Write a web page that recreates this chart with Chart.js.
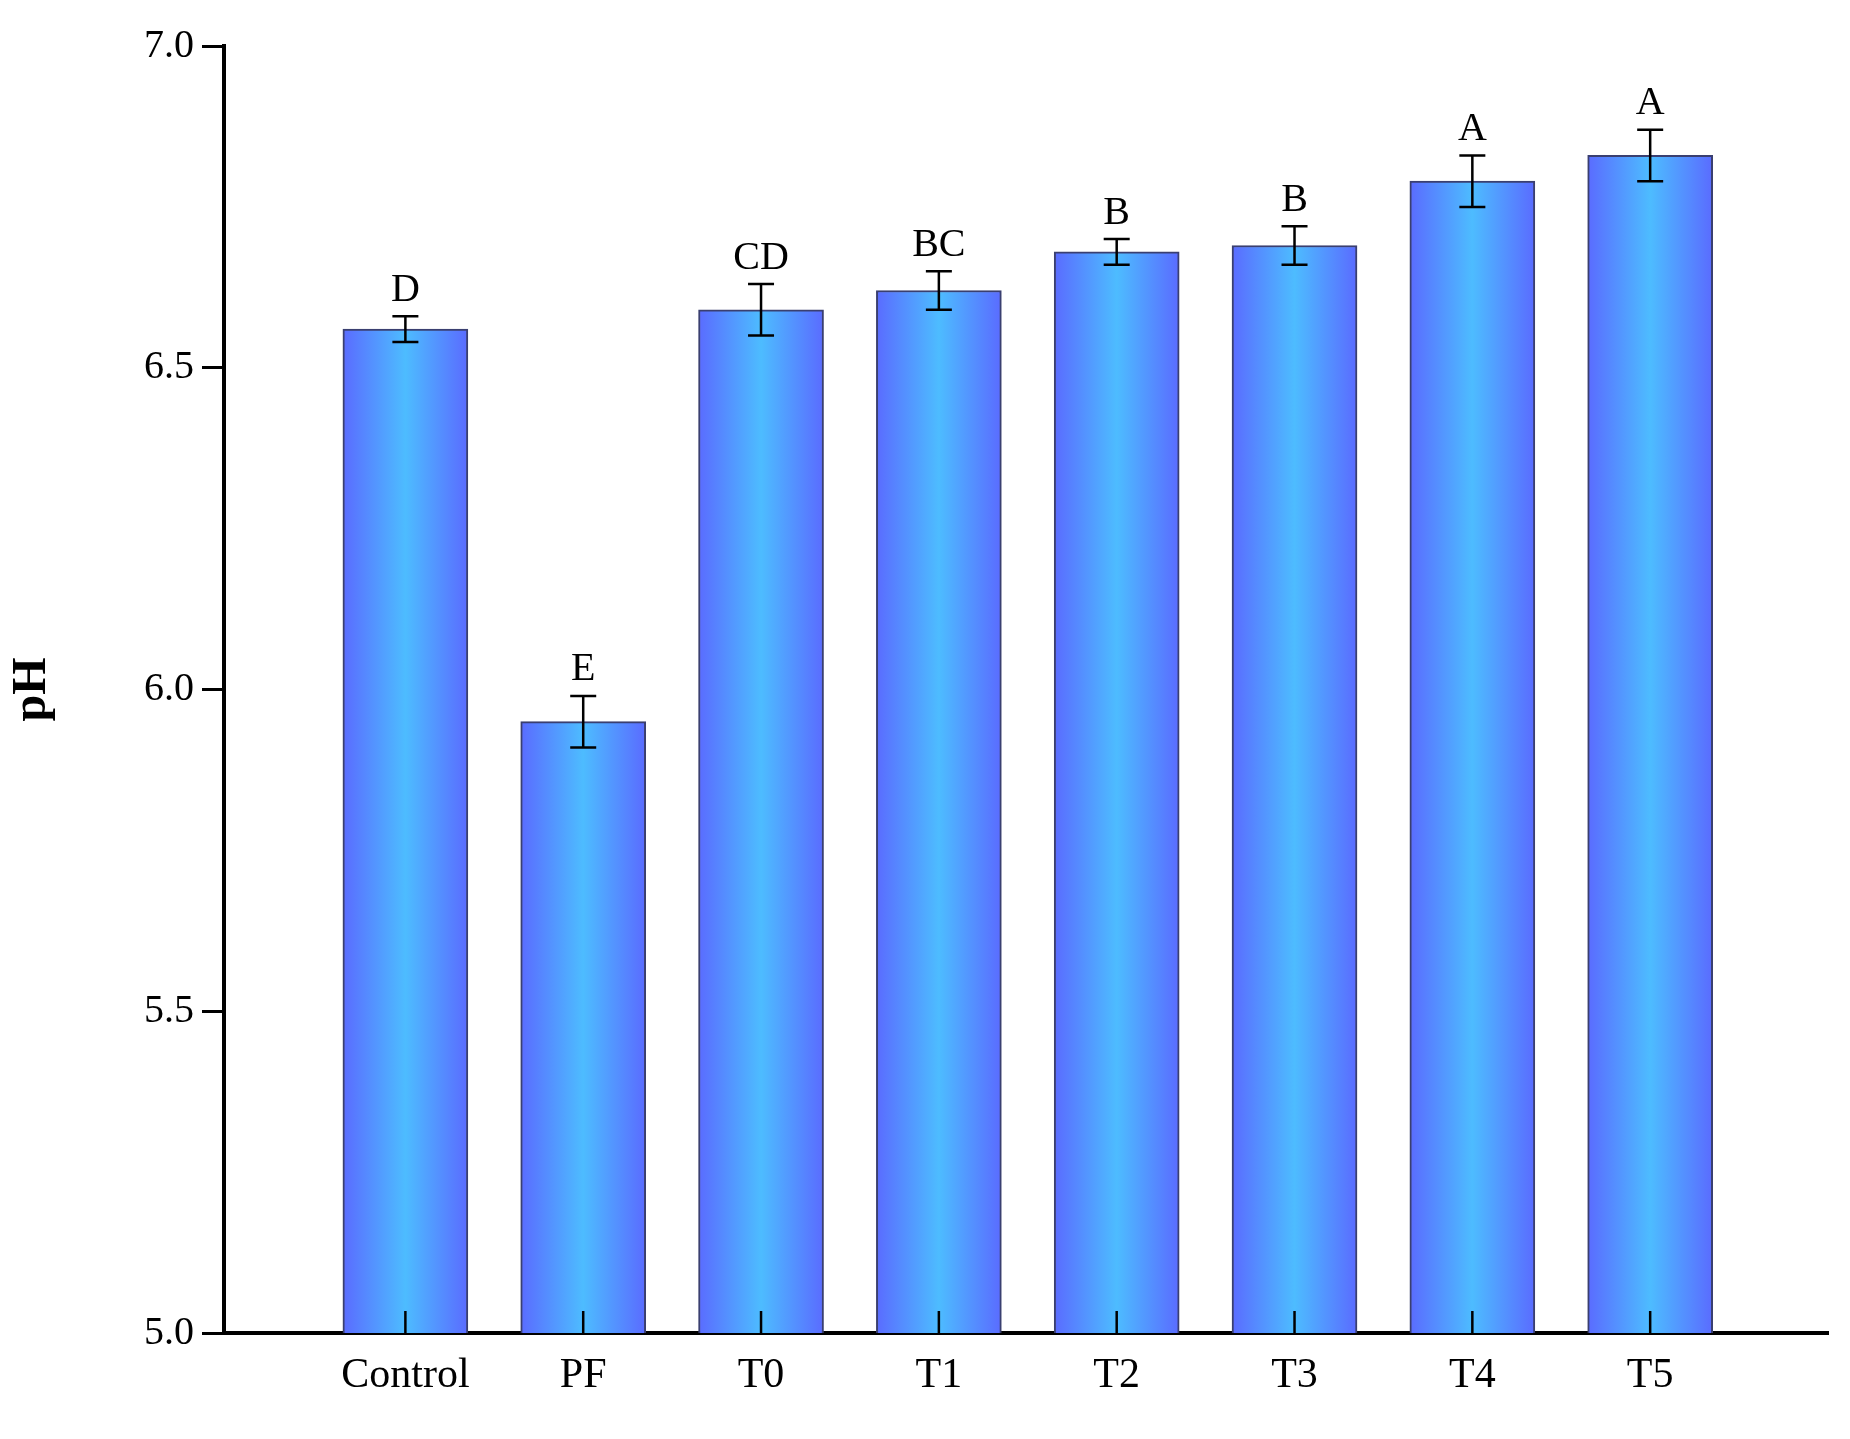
<!DOCTYPE html>
<html><head><meta charset="utf-8">
<script src="https://cdn.jsdelivr.net/npm/chart.js@4"></script>
<style>html,body{margin:0;padding:0;background:#fff}#w{width:1850px;height:1439px}</style>
</head><body><div id="w"><canvas id="c"></canvas></div>
<script>
const categories = ["Control","PF","T0","T1","T2","T3","T4","T5"];
const phValues = [6.56,5.95,6.59,6.62,6.68,6.69,6.79,6.83];
const phErrors = [0.02,0.04,0.04,0.03,0.02,0.03,0.04,0.04];
const letters = ["D","E","CD","BC","B","B","A","A"];
const yTicks = [5.0,5.5,6.0,6.5,7.0];
const FONT = "'Liberation Serif','DejaVu Serif',serif";

function barGrad(ctx){
  const chart = ctx.chart; const xs = chart.scales.x;
  if(!xs || ctx.dataIndex===undefined) return '#4db8ff';
  const cx = xs.getPixelForValue(ctx.dataIndex), hw = 62;
  if(!isFinite(cx)) return '#4db8ff';
  const g = chart.ctx.createLinearGradient(cx-hw,0,cx+hw,0);
  g.addColorStop(0,'#5a6cff'); g.addColorStop(0.5,'#4dbcff'); g.addColorStop(1,'#5a6cff');
  return g;
}
const overlay = {
  id:'overlay',
  afterDatasetsDraw(chart){
    const c = chart.ctx, xs = chart.scales.x, ys = chart.scales.y;
    c.save();
    c.strokeStyle='#000'; c.lineWidth=2.5;
    phValues.forEach((v,i)=>{
      const x = xs.getPixelForValue(i);
      const t = ys.getPixelForValue(v+phErrors[i]), b = ys.getPixelForValue(v-phErrors[i]);
      c.beginPath(); c.moveTo(x,t); c.lineTo(x,b);
      c.moveTo(x-13,t); c.lineTo(x+13,t); c.moveTo(x-13,b); c.lineTo(x+13,b); c.stroke();
      const y0 = ys.getPixelForValue(5.0);
      c.beginPath(); c.moveTo(x,y0); c.lineTo(x,y0-22); c.stroke();
      c.fillStyle='#000'; c.font='40px '+FONT; c.textAlign='center'; c.textBaseline='bottom';
      c.fillText(letters[i], x, t-6);
    });
    c.restore();
  }
};
new Chart(document.getElementById('c'),{
  type:'bar',
  data:{datasets:[{
    data: phValues.map((v,i)=>({x:i,y:v})),
    backgroundColor: barGrad,
    borderColor:'#3a3f70', borderWidth:2,
    barThickness:125
  }]},
  options:{
    responsive:true, maintainAspectRatio:false, animation:false,
    layout:{padding:{top:46,right:22,left:0,bottom:0}},
    plugins:{legend:{display:false},tooltip:{enabled:false}},
    scales:{
      x:{type:'linear', min:-1.02, max:8.0, offset:false,
        afterBuildTicks(s){ s.ticks = categories.map((_,i)=>({value:i})); },
        ticks:{callback:(v)=>categories[v]??'', font:{family:FONT,size:42}, color:'#000', padding:18, autoSkip:false, maxRotation:0},
        grid:{display:false, drawTicks:false},
        border:{color:'#000', width:4},
        afterFit(s){ s.height=106; }
      },
      y:{min:5.0,max:7.0,
        afterBuildTicks(s){ s.ticks = yTicks.map(v=>({value:v})); },
        ticks:{callback:v=>v.toFixed(1), font:{family:FONT,size:40}, color:'#000', padding:8},
        grid:{drawOnChartArea:false, drawTicks:true, tickLength:22, color:'#000', lineWidth:3},
        border:{color:'#000', width:4},
        title:{display:true, text:'pH', font:{family:FONT,size:48,weight:'bold'}, color:'#000'},
        afterFit(s){ s.width=224; }
      }
    }
  },
  plugins:[overlay]
});
</script></body></html>
